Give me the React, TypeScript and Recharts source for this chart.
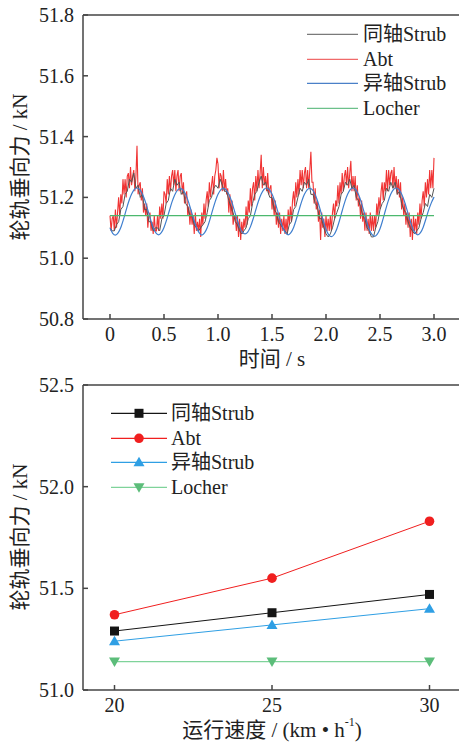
import React from "react";
import {
  LineChart,
  Line,
  XAxis,
  YAxis,
  Legend,
  ReferenceLine,
} from "recharts";

// ---- top chart: time history (step 0.01 s for Abt, 0.02 s for 同轴Strub, 0.025 s for 异轴Strub)
const abtForce = [
  51.14, 51.09, 51.13,
  51.14, 51.09, 51.16, 51.10, 51.15, 51.20, 51.14, 51.21, 51.18, 51.26, 51.21, 51.26, 51.20, 51.27, 51.28, 51.23, 51.30, 51.24, 51.27, 51.29,
  51.22, 51.27, 51.37, 51.21, 51.24, 51.25, 51.19, 51.23, 51.15, 51.18, 51.14, 51.18, 51.10, 51.14, 51.15, 51.09, 51.12, 51.08, 51.14, 51.09,
  51.09, 51.14, 51.09, 51.17, 51.13, 51.18, 51.13, 51.22, 51.21, 51.18, 51.26, 51.21, 51.27, 51.22, 51.27, 51.29, 51.24, 51.29, 51.22, 51.27,
  51.29, 51.22, 51.27, 51.28, 51.21, 51.25, 51.18, 51.20, 51.22, 51.14, 51.17, 51.11, 51.16, 51.11, 51.14, 51.08, 51.15, 51.09, 51.12, 51.09,
  51.13, 51.07, 51.15, 51.11, 51.18, 51.13, 51.19, 51.22, 51.17, 51.25, 51.20, 51.24, 51.27, 51.21, 51.27, 51.29, 51.33, 51.31, 51.23, 51.28,
  51.27, 51.22, 51.29, 51.22, 51.26, 51.21, 51.23, 51.15, 51.21, 51.14, 51.19, 51.11, 51.14, 51.14, 51.09, 51.14, 51.07, 51.13, 51.06, 51.12,
  51.08, 51.13, 51.10, 51.17, 51.11, 51.19, 51.15, 51.23, 51.17, 51.23, 51.25, 51.19, 51.27, 51.22, 51.29, 51.23, 51.28, 51.34, 51.23, 51.30,
  51.24, 51.27, 51.22, 51.28, 51.21, 51.23, 51.24, 51.16, 51.20, 51.14, 51.19, 51.11, 51.15, 51.10, 51.15, 51.08, 51.13, 51.09, 51.14, 51.08,
  51.13, 51.08, 51.16, 51.11, 51.17, 51.12, 51.19, 51.22, 51.17, 51.25, 51.20, 51.26, 51.21, 51.29, 51.24, 51.29, 51.23, 51.28, 51.30, 51.23,
  51.29, 51.23, 51.29, 51.35, 51.25, 51.25, 51.18, 51.23, 51.16, 51.19, 51.12, 51.16, 51.06, 51.15, 51.10, 51.13, 51.07, 51.14, 51.09, 51.13,
  51.09, 51.14, 51.09, 51.15, 51.18, 51.13, 51.19, 51.17, 51.24, 51.18, 51.25, 51.21, 51.28, 51.22, 51.27, 51.29, 51.24, 51.30, 51.23, 51.28,
  51.32, 51.22, 51.27, 51.22, 51.27, 51.19, 51.24, 51.17, 51.20, 51.13, 51.19, 51.12, 51.15, 51.09, 51.15, 51.09, 51.13, 51.08, 51.15, 51.09,
  51.14, 51.09, 51.14, 51.10, 51.18, 51.14, 51.20, 51.16, 51.22, 51.25, 51.19, 51.25, 51.22, 51.29, 51.22, 51.29, 51.24, 51.28, 51.29, 51.23,
  51.30, 51.23, 51.27, 51.21, 51.26, 51.20, 51.25, 51.16, 51.20, 51.14, 51.18, 51.11, 51.15, 51.10, 51.15, 51.07, 51.13, 51.06, 51.14, 51.09,
  51.13, 51.08, 51.15, 51.11, 51.18, 51.13, 51.19, 51.22, 51.17, 51.25, 51.20, 51.26, 51.21, 51.29, 51.23, 51.29, 51.23, 51.33,
];

const coaxialForce = [
  51.10, 51.09,
  51.09, 51.11, 51.12, 51.16, 51.17, 51.21, 51.22, 51.26, 51.25, 51.28, 51.23, 51.24, 51.20, 51.21, 51.16, 51.16, 51.12, 51.12, 51.09, 51.10,
  51.10, 51.09, 51.13, 51.14, 51.18, 51.19, 51.23, 51.22, 51.26, 51.24, 51.25, 51.21, 51.22, 51.18, 51.17, 51.14, 51.14, 51.11, 51.10, 51.09,
  51.10, 51.11, 51.12, 51.15, 51.19, 51.20, 51.23, 51.24, 51.23, 51.26, 51.24, 51.22, 51.22, 51.19, 51.17, 51.15, 51.12, 51.11, 51.09, 51.08,
  51.09, 51.10, 51.13, 51.14, 51.18, 51.21, 51.22, 51.25, 51.27, 51.24, 51.25, 51.22, 51.20, 51.20, 51.16, 51.15, 51.12, 51.11, 51.10, 51.09,
  51.08, 51.11, 51.12, 51.16, 51.17, 51.20, 51.23, 51.22, 51.25, 51.24, 51.26, 51.21, 51.21, 51.18, 51.17, 51.13, 51.13, 51.10, 51.08, 51.07,
  51.08, 51.10, 51.13, 51.15, 51.17, 51.21, 51.22, 51.25, 51.24, 51.26, 51.23, 51.24, 51.20, 51.19, 51.17, 51.14, 51.13, 51.10, 51.09, 51.07,
  51.07, 51.10, 51.12, 51.16, 51.18, 51.19, 51.23, 51.22, 51.25, 51.23, 51.25, 51.21, 51.22, 51.18, 51.16, 51.15, 51.12, 51.10, 51.09, 51.08,
  51.09, 51.10, 51.13, 51.15, 51.18, 51.17, 51.21, 51.20, 51.23,
];

const offsetForce = [
  51.099, 51.082,
  51.076, 51.083, 51.101, 51.128, 51.159, 51.188, 51.211, 51.226, 51.231, 51.226, 51.211, 51.188, 51.159, 51.128, 51.101, 51.083,
  51.077, 51.084, 51.101, 51.127, 51.157, 51.186, 51.209, 51.224, 51.229, 51.225, 51.210, 51.187, 51.158, 51.128, 51.102, 51.084,
  51.076, 51.083, 51.100, 51.127, 51.158, 51.187, 51.210, 51.225, 51.230, 51.225, 51.210, 51.188, 51.159, 51.129, 51.103, 51.086,
  51.080, 51.086, 51.103, 51.129, 51.159, 51.188, 51.211, 51.226, 51.231, 51.226, 51.211, 51.188, 51.158, 51.127, 51.100, 51.083,
  51.077, 51.084, 51.101, 51.128, 51.158, 51.187, 51.210, 51.225, 51.230, 51.225, 51.209, 51.185, 51.155, 51.123, 51.095, 51.077,
  51.071, 51.078, 51.096, 51.124, 51.156, 51.186, 51.210, 51.226, 51.231, 51.226, 51.210, 51.186, 51.155, 51.123, 51.095, 51.078,
  51.072, 51.079, 51.097, 51.125, 51.157, 51.187, 51.211, 51.226, 51.231, 51.226, 51.211, 51.188, 51.159, 51.128, 51.101, 51.083,
  51.077, 51.084, 51.102, 51.129, 51.158, 51.182, 51.201,
];

const locherTime = [0, 3.0];
const locherForce = [51.14, 51.14];

const timeTicks = [0, 0.5, 1.0, 1.5, 2.0, 2.5, 3.0];
const forceTicksTop = [50.8, 51.0, 51.2, 51.4, 51.6, 51.8];

// ---- bottom chart: mean force vs speed
const speeds = [20, 25, 30];
const coaxialMean = [51.29, 51.38, 51.47];
const abtMean = [51.37, 51.55, 51.83];
const offsetMean = [51.24, 51.32, 51.40];
const locherMean = [51.14, 51.14, 51.14];
const forceTicksBottom = [51.0, 51.5, 52.0, 52.5];

const abtData = abtForce.map((f, i) => ({ t: i * 0.01, f }));
const coaxialData = coaxialForce.map((f, i) => ({ t: i * 0.02, f }));
const offsetData = offsetForce.map((f, i) => ({ t: i * 0.025, f }));
const locherData = locherForce.map((f, i) => ({ t: locherTime[i], f }));
const speedData = speeds.map((v, i) => ({
  v,
  coaxial: coaxialMean[i],
  abt: abtMean[i],
  offset: offsetMean[i],
  locher: locherMean[i],
}));

const FONT =
  "'Liberation Serif', 'Times New Roman', Times, 'DejaVu Serif', 'Noto Sans CJK SC', serif";
const AXIS = "#444";

const C = {
  black: "#555",
  red: "#f03434",
  blue: "#3f7fcf",
  green: "#4cb86e",
};
const C2 = {
  black: "#151515",
  red: "#f01f1f",
  blue: "#2f9fe4",
  green: "#7fd39a",
  greenMark: "#5cbd7a",
};

const fmtTime = (v: number) => (v === 0 ? "0" : v.toFixed(1));
const fmt1 = (v: number) => v.toFixed(1);
const fmtInt = (v: number) => String(v);

function XTick({ x, y, payload, fmt }: any) {
  return (
    <text
      x={x}
      y={y}
      dy="0.72em"
      textAnchor="middle"
      fontFamily={FONT}
      style={{ fontFamily: FONT, fontSize: 20, fill: "#222" }}
    >
      {fmt(payload.value)}
    </text>
  );
}

function YTick({ x, y, payload, fmt }: any) {
  return (
    <text
      x={x}
      y={y}
      dy="0.35em"
      textAnchor="end"
      fontFamily={FONT}
      style={{ fontFamily: FONT, fontSize: 20, fill: "#222" }}
    >
      {fmt(payload.value)}
    </text>
  );
}

function Marker({ cx, cy, shape, color }: any) {
  if (cx == null || cy == null) return null;
  if (shape === "square")
    return <rect x={cx - 4.5} y={cy - 4.5} width={9} height={9} fill={color} />;
  if (shape === "circle") return <circle cx={cx} cy={cy} r={4.8} fill={color} />;
  if (shape === "up")
    return (
      <polygon
        points={`${cx},${cy - 5.5} ${cx - 5.5},${cy + 4} ${cx + 5.5},${cy + 4}`}
        fill={color}
      />
    );
  return (
    <polygon
      points={`${cx},${cy + 5.5} ${cx - 5.5},${cy - 4} ${cx + 5.5},${cy - 4}`}
      fill={color}
    />
  );
}

function LegendBox({ items, lineLen, gap }: any) {
  return (
    <div>
      {items.map((it: any) => (
        <div
          key={it.name}
          style={{ display: "flex", alignItems: "center", height: 24.6 }}
        >
          <svg width={lineLen} height={24.6} style={{ display: "block" }}>
            <line
              x1={0}
              x2={lineLen}
              y1={12.3}
              y2={12.3}
              stroke={it.color}
              strokeWidth={1.2}
            />
            {it.shape && (
              <Marker cx={lineLen / 2} cy={12.3} shape={it.shape} color={it.mark || it.color} />
            )}
          </svg>
          <span
            style={{
              marginLeft: gap,
              fontSize: 20,
              lineHeight: "24.6px",
              fontFamily: FONT,
              color: "#222",
              whiteSpace: "nowrap",
            }}
          >
            {it.name}
          </span>
        </div>
      ))}
    </div>
  );
}

function YTitle({ cx, cy }: any) {
  return (
    <text
      x={cx}
      y={cy}
      transform={`rotate(-90 ${cx} ${cy})`}
      textAnchor="middle"
      dominantBaseline="central"
      fontFamily={FONT}
      style={{ fontFamily: FONT, fontSize: 21, fill: "#222" }}
    >
      轮轨垂向力 / kN
    </text>
  );
}

function TimeTitle({ cx, cy }: any) {
  return (
    <text
      x={cx}
      y={cy}
      textAnchor="middle"
      dominantBaseline="central"
      fontFamily={FONT}
      style={{ fontFamily: FONT, fontSize: 21, fill: "#222" }}
    >
      时间 / s
    </text>
  );
}

function SpeedTitle({ cx, cy }: any) {
  return (
    <text
      x={cx}
      y={cy}
      textAnchor="middle"
      dominantBaseline="central"
      fontFamily={FONT}
      style={{ fontFamily: FONT, fontSize: 21, fill: "#222" }}
    >
      运行速度 / (km • h
      <tspan dy={-8} style={{ fontSize: 12 }}>
        -1
      </tspan>
      <tspan dy={8}>)</tspan>
    </text>
  );
}

export default function App() {
  return (
    <div
      style={{
        position: "absolute",
        left: 0,
        top: 0,
        width: 459,
        height: 743,
        overflow: "hidden",
        background: "#fff",
        fontFamily: FONT,
      }}
    >
      <LineChart
        width={461}
        height={370}
        margin={{ top: 15, right: 0, bottom: 0, left: 0 }}
        style={{ fontFamily: FONT }}
      >
        <XAxis
          dataKey="t"
          type="number"
          domain={[-0.25, 3.25]}
          ticks={timeTicks}
          allowDuplicatedCategory={false}
          height={51}
          tickSize={-5}
          tickMargin={13}
          tick={<XTick fmt={fmtTime} />}
          stroke={AXIS}
          strokeWidth={1.5}
          label={<TimeTitle cx={272} cy={359} />}
        />
        <YAxis
          type="number"
          domain={[50.8, 51.8]}
          ticks={forceTicksTop}
          width={83}
          tickSize={-5}
          tickMargin={14}
          tick={<YTick fmt={fmt1} />}
          stroke={AXIS}
          strokeWidth={1.5}
          label={<YTitle cx={20} cy={167} />}
        />
        <ReferenceLine y={51.8} stroke={AXIS} strokeWidth={1.5} />
        <Line
          data={abtData}
          dataKey="f"
          name="Abt"
          type="linear"
          stroke={C.red}
          strokeWidth={1.1}
          dot={false}
          isAnimationActive={false}
        />
        <Line
          data={coaxialData}
          dataKey="f"
          name="同轴Strub"
          type="linear"
          stroke={C.black}
          strokeWidth={1}
          dot={false}
          isAnimationActive={false}
        />
        <Line
          data={offsetData}
          dataKey="f"
          name="异轴Strub"
          type="monotone"
          stroke={C.blue}
          strokeWidth={1.2}
          dot={false}
          isAnimationActive={false}
        />
        <Line
          data={locherData}
          dataKey="f"
          name="Locher"
          type="linear"
          stroke={C.green}
          strokeWidth={1.2}
          dot={false}
          isAnimationActive={false}
        />
        <Legend
          layout="vertical"
          align="center"
          verticalAlign="middle"
          wrapperStyle={{ top: 22, left: 307, width: 160 }}
          content={() => (
            <LegendBox
              lineLen={51}
              gap={5}
              items={[
                { name: "同轴Strub", color: "#7a7a7a" },
                { name: "Abt", color: "#f06a6a" },
                { name: "异轴Strub", color: "#4a80c8" },
                { name: "Locher", color: "#6cc08a" },
              ]}
            />
          )}
        />
      </LineChart>

      <LineChart
        width={461}
        height={373}
        data={speedData}
        margin={{ top: 15, right: 0, bottom: 0, left: 0 }}
        style={{ fontFamily: FONT }}
      >
        <XAxis
          dataKey="v"
          type="number"
          domain={[19, 31]}
          ticks={speeds}
          height={53}
          tickSize={-5}
          tickMargin={13}
          tick={<XTick fmt={fmtInt} />}
          stroke={AXIS}
          strokeWidth={1.5}
          label={<SpeedTitle cx={272} cy={360} />}
        />
        <YAxis
          type="number"
          domain={[51.0, 52.5]}
          ticks={forceTicksBottom}
          width={83}
          tickSize={-5}
          tickMargin={14}
          tick={<YTick fmt={fmt1} />}
          stroke={AXIS}
          strokeWidth={1.5}
          label={<YTitle cx={20} cy={167} />}
        />
        <ReferenceLine y={52.5} stroke={AXIS} strokeWidth={1.5} />
        <Line
          dataKey="coaxial"
          name="同轴Strub"
          stroke={C2.black}
          strokeWidth={1}
          isAnimationActive={false}
          dot={(p: any) => (
            <Marker key={`a${p.index}`} cx={p.cx} cy={p.cy} shape="square" color={C2.black} />
          )}
        />
        <Line
          dataKey="abt"
          name="Abt"
          stroke={C2.red}
          strokeWidth={1}
          isAnimationActive={false}
          dot={(p: any) => (
            <Marker key={`b${p.index}`} cx={p.cx} cy={p.cy} shape="circle" color={C2.red} />
          )}
        />
        <Line
          dataKey="offset"
          name="异轴Strub"
          stroke={C2.blue}
          strokeWidth={1}
          isAnimationActive={false}
          dot={(p: any) => (
            <Marker key={`c${p.index}`} cx={p.cx} cy={p.cy} shape="up" color={C2.blue} />
          )}
        />
        <Line
          dataKey="locher"
          name="Locher"
          stroke={C2.green}
          strokeWidth={1.2}
          isAnimationActive={false}
          dot={(p: any) => (
            <Marker key={`d${p.index}`} cx={p.cx} cy={p.cy} shape="down" color={C2.greenMark} />
          )}
        />
        <Legend
          layout="vertical"
          align="center"
          verticalAlign="middle"
          wrapperStyle={{ top: 31, left: 111, width: 200 }}
          content={() => (
            <LegendBox
              lineLen={56}
              gap={4}
              items={[
                { name: "同轴Strub", color: C2.black, shape: "square" },
                { name: "Abt", color: C2.red, shape: "circle" },
                { name: "异轴Strub", color: C2.blue, shape: "up" },
                { name: "Locher", color: C2.green, shape: "down", mark: C2.greenMark },
              ]}
            />
          )}
        />
      </LineChart>
    </div>
  );
}
